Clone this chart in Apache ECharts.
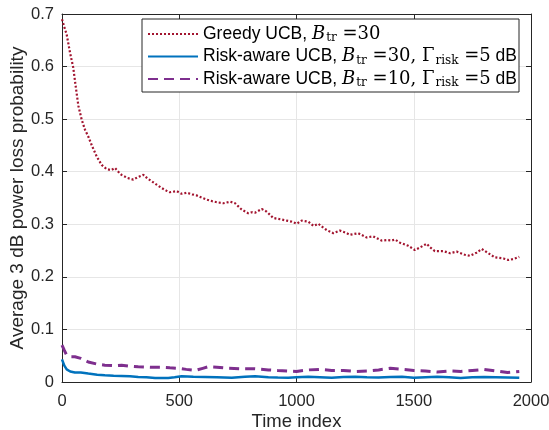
<!DOCTYPE html>
<html><head><meta charset="utf-8">
<script src="https://cdn.jsdelivr.net/npm/echarts@6.0.0/dist/echarts.min.js"></script>
<style>html,body{margin:0;padding:0;background:#fff}#c{width:549px;height:430px}</style>
</head><body><div id="c"></div>
<script>
const xTicks = [0, 500, 1000, 1500, 2000];
const yTicks = [0, 0.1, 0.2, 0.3, 0.4, 0.5, 0.6, 0.7];
const seriesNames = ['Greedy UCB', 'Risk-aware UCB (B=30)', 'Risk-aware UCB (B=10)'];

const greedyX = [0,10,20,34,48,60,70,84,98,112,129,148,169,190,210,226,240,254,280,304,325,347,365,382,405,425,445,460,489,510,532,555,574,595,617,640,660,688,717,738,752,766,794,810,823,852,873,887,901,937,958,979,1001,1022,1050,1072,1093,1110,1129,1157,1185,1210,1228,1263,1299,1327,1363,1385,1406,1420,1441,1477,1505,1527,1555,1570,1590,1626,1655,1683,1718,1740,1768,1790,1818,1846,1882,1903,1925,1950];
const greedyY = [0.69,0.675,0.661,0.627,0.598,0.557,0.525,0.499,0.48,0.467,0.448,0.429,0.413,0.405,0.403,0.407,0.400,0.394,0.388,0.385,0.390,0.394,0.387,0.382,0.375,0.369,0.364,0.361,0.363,0.358,0.360,0.357,0.355,0.351,0.347,0.344,0.342,0.340,0.343,0.340,0.334,0.328,0.321,0.323,0.322,0.329,0.324,0.318,0.312,0.309,0.307,0.305,0.301,0.307,0.305,0.297,0.301,0.295,0.289,0.283,0.288,0.284,0.280,0.283,0.275,0.277,0.269,0.270,0.269,0.271,0.265,0.259,0.251,0.256,0.263,0.256,0.249,0.249,0.245,0.248,0.242,0.240,0.246,0.253,0.245,0.237,0.235,0.232,0.234,0.238];

const risk30X = [0,10,20,35,55,80,112,150,183,220,254,290,325,360,397,453,480,510,560,610,660,724,780,823,880,920,965,1000,1050,1100,1150,1200,1250,1300,1350,1400,1450,1500,1550,1600,1650,1700,1750,1800,1850,1900,1950];
const risk30Y = [0.043,0.031,0.024,0.020,0.018,0.018,0.016,0.014,0.013,0.012,0.0115,0.011,0.0095,0.009,0.0076,0.0076,0.009,0.011,0.010,0.0095,0.009,0.008,0.010,0.011,0.009,0.0085,0.008,0.009,0.010,0.009,0.008,0.0095,0.010,0.009,0.0085,0.0095,0.010,0.008,0.009,0.010,0.009,0.0075,0.009,0.0095,0.009,0.0085,0.008];

const risk10X = [0,10,20,40,55,80,112,150,183,220,254,290,325,380,425,460,496,530,568,600,624,660,709,760,823,880,920,965,1000,1050,1100,1150,1200,1250,1300,1350,1400,1450,1500,1550,1600,1650,1700,1750,1800,1850,1900,1950];
const risk10Y = [0.070,0.060,0.051,0.048,0.048,0.045,0.038,0.034,0.032,0.031,0.032,0.030,0.029,0.028,0.028,0.027,0.026,0.024,0.022,0.026,0.029,0.028,0.026,0.025,0.025,0.023,0.022,0.021,0.020,0.023,0.024,0.022,0.022,0.020,0.021,0.023,0.026,0.024,0.022,0.021,0.019,0.021,0.020,0.022,0.024,0.021,0.018,0.020];

function zip(xs, ys) { return xs.map((x, i) => [x, ys[i]]); }

const legendText = {};
legendText[seriesNames[0]] = '{txt|Greedy UCB, }{ital|B}{sub|tr}{mth| =30}';
legendText[seriesNames[1]] = '{txt|Risk-aware UCB, }{ital|B}{sub|tr}{mth| =30, Γ}{sub|risk}{mth| =5}{txt| dB}';
legendText[seriesNames[2]] = '{txt|Risk-aware UCB, }{ital|B}{sub|tr}{mth| =10, Γ}{sub|risk}{mth| =5}{txt| dB}';

const sans = 'Liberation Sans';
const serif = 'DejaVu Serif';
const axisColor = '#262626';

const chart = echarts.init(document.getElementById('c'), null, {renderer: 'canvas'});
chart.setOption({
  animation: false,
  backgroundColor: '#fff',
  grid: {left: 62, right: 18, top: 14, bottom: 48, containLabel: false, outerBoundsMode: 'none'},
  xAxis: [{
    type: 'value', min: xTicks[0], max: xTicks[xTicks.length - 1], interval: 500,
    name: 'Time index', nameLocation: 'middle', nameGap: 30, nameMoveOverlap: false,
    nameTextStyle: {fontFamily: sans, fontSize: 18.5, color: axisColor},
    axisLine: {show: true, onZero: false, lineStyle: {color: axisColor, width: 1}},
    axisTick: {show: true, inside: true, length: 5, lineStyle: {color: axisColor}},
    axisLabel: {fontFamily: sans, fontSize: 16.5, color: axisColor, margin: 11,
      formatter: v => String(v)},
    splitLine: {show: true, lineStyle: {color: '#e6e6e6', width: 1}}
  }, {
    type: 'value', position: 'top', min: xTicks[0], max: xTicks[xTicks.length - 1], interval: 500,
    axisLine: {show: true, onZero: false, lineStyle: {color: axisColor, width: 1}},
    axisTick: {show: true, inside: true, length: 5, lineStyle: {color: axisColor}},
    axisLabel: {show: false}, splitLine: {show: false}
  }],
  yAxis: [{
    type: 'value', min: yTicks[0], max: yTicks[yTicks.length - 1], interval: 0.1,
    name: 'Average 3 dB power loss probability', nameLocation: 'middle', nameGap: 35, nameMoveOverlap: false,
    nameTextStyle: {fontFamily: sans, fontSize: 19, color: axisColor},
    axisLine: {show: true, onZero: false, lineStyle: {color: axisColor, width: 1}},
    axisTick: {show: true, inside: true, length: 5, lineStyle: {color: axisColor}},
    axisLabel: {fontFamily: sans, fontSize: 16.5, color: axisColor, margin: 8,
      formatter: v => (Math.round(v * 10) / 10).toString()},
    splitLine: {show: true, lineStyle: {color: '#e6e6e6', width: 1}}
  }, {
    type: 'value', position: 'right', min: yTicks[0], max: yTicks[yTicks.length - 1], interval: 0.1,
    axisLine: {show: true, onZero: false, lineStyle: {color: axisColor, width: 1}},
    axisTick: {show: true, inside: true, length: 5, lineStyle: {color: axisColor}},
    axisLabel: {show: false}, splitLine: {show: false}
  }],
  legend: {
    show: true, orient: 'vertical', left: 142, top: 19, align: 'left',
    backgroundColor: '#fff', borderColor: axisColor, borderWidth: 1, borderRadius: 0,
    padding: [5, 2, 3, 5], itemGap: 2.5, itemWidth: 50, itemHeight: 14,
    itemStyle: {color: 'rgba(0,0,0,0)', borderColor: 'rgba(0,0,0,0)', borderWidth: 0, opacity: 0},
    data: seriesNames,
    formatter: name => legendText[name],
    textStyle: {
      color: '#000', fontFamily: sans, fontSize: 17.5, lineHeight: 20,
      rich: {
        txt: {fontFamily: sans, fontSize: 17.5, color: '#000', lineHeight: 20},
        ital: {fontFamily: serif, fontStyle: 'italic', fontSize: 18, color: '#000', lineHeight: 20},
        sub: {fontFamily: serif, fontSize: 12, color: '#000', lineHeight: 12, padding: [8, 0, 0, 1]},
        mth: {fontFamily: serif, fontSize: 18, color: '#000', lineHeight: 20}
      }
    }
  },
  series: [{
    name: seriesNames[0], type: 'line', data: zip(greedyX, greedyY), showSymbol: false, symbol: 'none',
    lineStyle: {color: '#A2142F', width: 2.2, type: [2, 2]}, itemStyle: {color: '#A2142F'}
  }, {
    name: seriesNames[1], type: 'line', data: zip(risk30X, risk30Y), showSymbol: false, symbol: 'none',
    lineStyle: {color: '#0072BD', width: 2.5, type: 'solid'}, itemStyle: {color: '#0072BD'}
  }, {
    name: seriesNames[2], type: 'line', data: zip(risk10X, risk10Y), showSymbol: false, symbol: 'none',
    lineStyle: {color: '#7E2F8E', width: 3, type: [10, 6]}, itemStyle: {color: '#7E2F8E'}
  }]
});
</script>
</body></html>
